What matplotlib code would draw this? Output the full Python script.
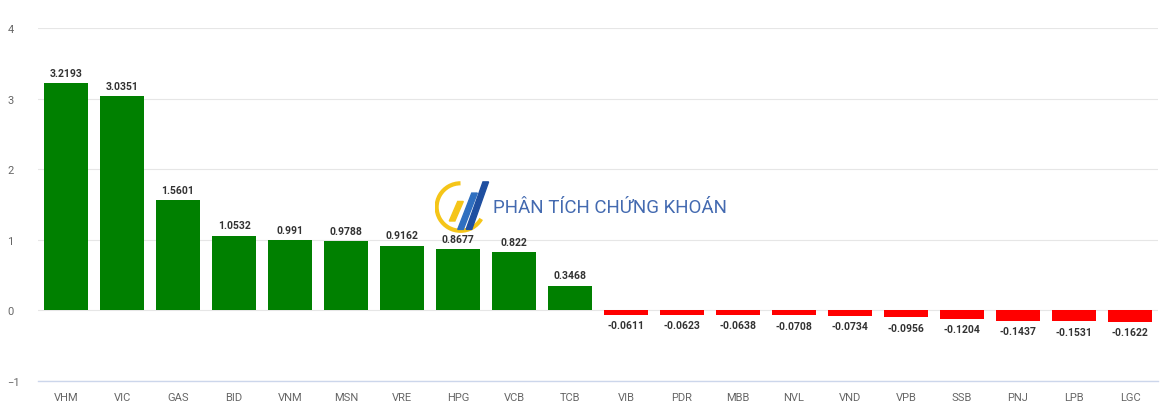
import matplotlib
matplotlib.use("Agg")
import matplotlib.pyplot as plt
from matplotlib.patches import Arc, Polygon

tickers = ["VHM", "VIC", "GAS", "BID", "VNM", "MSN", "VRE", "HPG", "VCB", "TCB",
           "VIB", "PDR", "MBB", "NVL", "VND", "VPB", "SSB", "PNJ", "LPB", "LGC"]
impact = [3.2193, 3.0351, 1.5601, 1.0532, 0.991, 0.9788, 0.9162, 0.8677, 0.822, 0.3468,
          -0.0611, -0.0623, -0.0638, -0.0708, -0.0734, -0.0956, -0.1204, -0.1437, -0.1531, -0.1622]
labels = ["3.2193", "3.0351", "1.5601", "1.0532", "0.991", "0.9788", "0.9162", "0.8677", "0.822", "0.3468",
          "-0.0611", "-0.0623", "-0.0638", "-0.0708", "-0.0734", "-0.0956", "-0.1204", "-0.1437", "-0.1531", "-0.1622"]

plt.rcParams['font.family'] = ['Roboto', 'DejaVu Sans']

fig = plt.figure(figsize=(11.7, 4.14), dpi=100)
ax = fig.add_axes([0.0325, 0.0773, 0.9572, 0.8527])

x = range(len(tickers))
colors = ["#008000" if v >= 0 else "#ff0000" for v in impact]
ax.bar(x, impact, width=0.8, color=colors, zorder=3)

for i, (v, s) in enumerate(zip(impact, labels)):
    if v >= 0:
        ax.annotate(s, (i, v), xytext=(0, 4), textcoords="offset points",
                    ha="center", va="bottom", fontsize=7.5, fontweight="bold", color="#333333")
    else:
        ax.annotate(s, (i, v), xytext=(0, -4), textcoords="offset points",
                    ha="center", va="top", fontsize=7.5, fontweight="bold", color="#333333")

ax.set_xlim(-0.5, len(tickers) - 0.5)
ax.set_ylim(-1, 4)
ax.set_yticks([-1, 0, 1, 2, 3, 4])
ax.set_yticklabels(["\u22121", "0", "1", "2", "3", "4"])
ax.set_xticks(list(x))
ax.set_xticklabels(tickers)
ax.tick_params(axis="both", length=0, labelsize=8, labelcolor="#666666")
ax.tick_params(axis="y", pad=22)
ax.tick_params(axis="x", pad=8)
for lbl in ax.get_yticklabels():
    lbl.set_horizontalalignment("left")

ax.grid(axis="y", color="#e6e6e6", linewidth=0.8, zorder=0)
for sp in ["top", "right", "left"]:
    ax.spines[sp].set_visible(False)
ax.spines["bottom"].set_color("#ccd6eb")
ax.spines["bottom"].set_linewidth(1)

# watermark
fig.text(0.421, 0.497, "PHÂN TÍCH CHỨNG KHOÁN", fontsize=13.5, color="#2f5aa8",
         ha="left", va="center", alpha=0.9)
logo = fig.add_axes([0.372, 0.43, 0.048, 0.135])
logo.set_xlim(0, 1)
logo.set_ylim(0, 1)
logo.axis("off")
logo.add_patch(Arc((0.45, 0.5), 0.85, 0.85, theta1=90, theta2=330, color="#f5c518", lw=3))
logo.add_patch(Polygon([[0.25, 0.25], [0.35, 0.25], [0.5, 0.6], [0.4, 0.6]], color="#f5c518"))
logo.add_patch(Polygon([[0.4, 0.1], [0.5, 0.1], [0.75, 0.75], [0.65, 0.75]], color="#2f6fc0"))
logo.add_patch(Polygon([[0.55, 0.1], [0.65, 0.1], [0.95, 0.95], [0.85, 0.95]], color="#1f4fa0"))

fig.savefig("out.png", dpi=100)
